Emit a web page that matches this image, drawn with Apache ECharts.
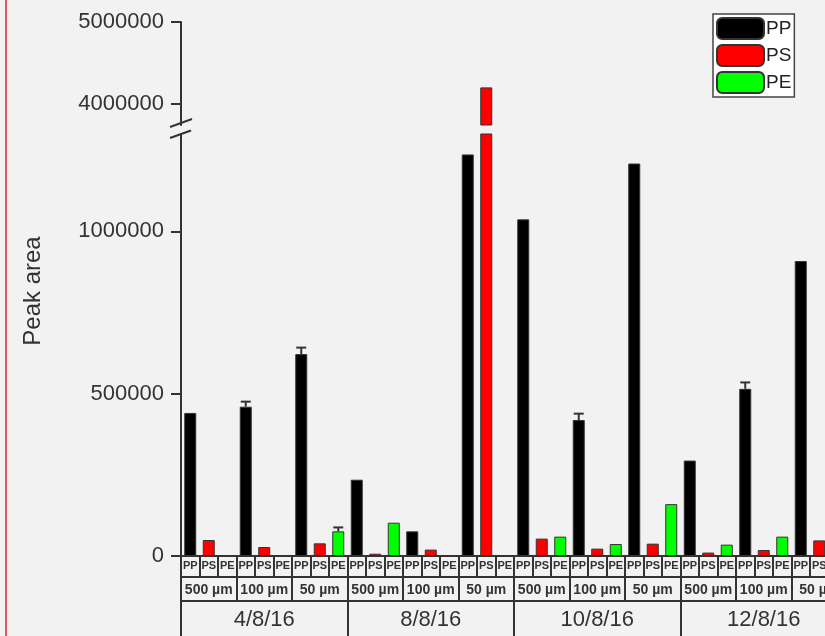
<!DOCTYPE html>
<html>
<head>
<meta charset="utf-8">
<script src="https://cdn.jsdelivr.net/npm/echarts@6.0.0/dist/echarts.min.js"></script>
<style>
	html, body { margin: 0; padding: 0; background: #f2f2f2; }
	#chart { width: 825px; height: 636px; }
</style>
</head>
<body>
<div id="chart"></div>
<script>
	var dates = ['4/8/16', '8/8/16', '10/8/16', '12/8/16'];
	var sizes = ['500 µm', '100 µm', '50 µm'];
	var polymers = ['PP', 'PS', 'PE'];

	// one value per date/size pair: 4/8/16 500,100,50 then 8/8/16 ... (null = no bar)
	var ppValues = [440700, 460000, 622000, 235000, 76000, 1237000, 1037000, 419000, 1209000, 294000, 515000, 908700];
	var psValues = [49200, 27700, 39000, 7000, 19700, 4200000, 53500, 22700, 38000, 10500, 18400, 48000];
	var peValues = [null, null, 76000, 102600, null, null, 59600, 36900, 159800, 35000, 59600, null];
	var ppErr = [0, 15500, 20000, 0, 0, 0, 0, 19500, 0, 0, 19700, 0];
	var psErr = [0, 0, 0, 0, 0, 0, 0, 0, 0, 0, 0, 0];
	var peErr = [0, 0, 12000, 0, 0, 0, 0, 0, 0, 0, 0, 0];

	var lowerMax = 1300000;
	var upperMin = 3740000;
	var upperMax = 5000000;
	var lowerTicks = [0, 500000, 1000000];
	var lowerMinor = [250000, 750000, 1250000];
	var upperTicks = [4000000, 5000000];
	var upperMinor = [4500000];

	var colors = ['#000000', '#ff0000', '#00ff00'];
	var lineColor = '#333';

	var slotLabels = [];
	var sizeLabels = [];
	for (var d = 0; d < dates.length; d++) {
		for (var s = 0; s < sizes.length; s++) {
			sizeLabels.push(sizes[s]);
			for (var p = 0; p < polymers.length; p++) {
				slotLabels.push(polymers[p]);
			}
		}
	}

	var allValues = [ppValues, psValues, peValues];
	var allErr = [ppErr, psErr, peErr];

	function slotData(p, upper) {
		var arr = [];
		for (var i = 0; i < slotLabels.length; i++) arr.push('-');
		var vals = allValues[p];
		for (var k = 0; k < vals.length; k++) {
			var v = vals[k];
			if (v == null) continue;
			if (upper && v <= upperMin) continue;
			arr[k * 3 + p] = v;
		}
		return arr;
	}

	var errData = [];
	for (var p = 0; p < 3; p++) {
		for (var k = 0; k < 12; k++) {
			if (allErr[p][k] > 0 && allValues[p][k] != null) {
				errData.push([k * 3 + p, allValues[p][k], allErr[p][k]]);
			}
		}
	}

	var chart = echarts.init(document.getElementById('chart'));

	var series = [];
	for (var p = 0; p < 3; p++) {
		series.push({
			name: polymers[p],
			type: 'bar',
			xAxisIndex: 0,
			yAxisIndex: 0,
			data: slotData(p, false),
			barWidth: 12,
			barGap: '-100%',
			clip: true,
			itemStyle: { color: colors[p], borderColor: lineColor, borderWidth: 1 }
		});
		series.push({
			name: polymers[p],
			type: 'bar',
			xAxisIndex: 3,
			yAxisIndex: 2,
			data: slotData(p, true),
			barWidth: 12,
			barGap: '-100%',
			clip: true,
			itemStyle: { color: colors[p], borderColor: lineColor, borderWidth: 1 }
		});
	}
	series.push({
		type: 'custom',
		xAxisIndex: 0,
		yAxisIndex: 0,
		data: errData,
		z: 5,
		renderItem: function (params, api) {
			var top = api.coord([api.value(0), api.value(1) + api.value(2)]);
			var base = api.coord([api.value(0), api.value(1)]);
			return {
				type: 'group',
				children: [{
					type: 'line',
					shape: { x1: base[0], y1: base[1], x2: top[0], y2: top[1] },
					style: { stroke: lineColor, lineWidth: 2 }
				}, {
					type: 'line',
					shape: { x1: top[0] - 5, y1: top[1], x2: top[0] + 5, y2: top[1] },
					style: { stroke: lineColor, lineWidth: 2 }
				}]
			};
		}
	});

	var labelFmt = function (v) { return String(v); };

	function catAxis(data, offset, tickLen, fontSize, margin, weight) {
		return {
			type: 'category',
			gridIndex: 0,
			position: 'bottom',
			offset: offset,
			data: data,
			axisLine: { show: true, onZero: false, lineStyle: { color: lineColor, width: 2 } },
			axisTick: { show: true, interval: 0, alignWithLabel: false, length: tickLen, lineStyle: { color: lineColor, width: 2 } },
			axisLabel: { show: true, interval: 0, fontSize: fontSize, fontWeight: weight || 'normal', color: '#333', margin: margin },
			splitLine: { show: false }
		};
	}

	var option = {
		backgroundColor: '#f2f2f2',
		animation: false,
		textStyle: { fontFamily: 'Liberation Sans, Arial, sans-serif' },
		legend: {
			data: polymers,
			orient: 'vertical',
			left: 713,
			top: 14,
			padding: 3,
			itemGap: 4,
			itemWidth: 47,
			itemHeight: 21,
			icon: 'roundRect',
			backgroundColor: '#ffffff',
			borderColor: '#444',
			borderWidth: 1.5,
			borderRadius: 0,
			textStyle: { fontSize: 19, color: '#222', padding: [0, 0, 0, -3] }
		},
		grid: [
			{ left: 181, top: 134, width: 666, height: 422, outerBoundsMode: 'none', containLabel: false },
			{ left: 181, top: 22, width: 666, height: 103, outerBoundsMode: 'none', containLabel: false }
		],
		xAxis: [
			catAxis(slotLabels, 0, 21, 11, 4, 'bold'),
			catAxis(sizeLabels, 21, 24, 14, 6, 'bold'),
			catAxis(dates, 45, 40, 22, 8),
			{ type: 'category', gridIndex: 1, data: slotLabels, show: false }
		],
		yAxis: [{
			type: 'value',
			gridIndex: 0,
			min: 0,
			max: lowerMax,
			axisLine: { show: true, lineStyle: { color: lineColor, width: 2 } },
			axisTick: { show: true, length: 10, customValues: lowerTicks, lineStyle: { color: lineColor, width: 2 } },
			axisLabel: { customValues: lowerTicks, fontSize: 22, color: '#333', margin: 17, formatter: labelFmt },
			splitLine: { show: false }
		}, {
			type: 'value',
			gridIndex: 0,
			min: 0,
			max: lowerMax,
			axisLine: { show: false },
			axisTick: { show: true, length: 5, customValues: lowerMinor, lineStyle: { color: lineColor, width: 2 } },
			axisLabel: { show: false },
			splitLine: { show: false }
		}, {
			type: 'value',
			gridIndex: 1,
			min: upperMin,
			max: upperMax,
			axisLine: { show: true, lineStyle: { color: lineColor, width: 2 } },
			axisTick: { show: true, length: 10, customValues: upperTicks, lineStyle: { color: lineColor, width: 2 } },
			axisLabel: { customValues: upperTicks, fontSize: 22, color: '#333', margin: 17, formatter: labelFmt },
			splitLine: { show: false }
		}, {
			type: 'value',
			gridIndex: 1,
			min: upperMin,
			max: upperMax,
			axisLine: { show: false },
			axisTick: { show: true, length: 5, customValues: upperMinor, lineStyle: { color: lineColor, width: 2 } },
			axisLabel: { show: false },
			splitLine: { show: false }
		}],
		graphic: [{
			type: 'line',
			shape: { x1: 6, y1: 0, x2: 6, y2: 636 },
			style: { stroke: '#e0202a', lineWidth: 1.5 }
		}, {
			type: 'line',
			shape: { x1: 170, y1: 127, x2: 192, y2: 119 },
			style: { stroke: lineColor, lineWidth: 2 }
		}, {
			type: 'line',
			shape: { x1: 170, y1: 138, x2: 191, y2: 130.5 },
			style: { stroke: lineColor, lineWidth: 2 }
		}, {
			type: 'text',
			x: 33,
			y: 291,
			rotation: Math.PI / 2,
			style: {
				text: 'Peak area',
				fontSize: 24,
				fill: '#333',
				fontFamily: 'Liberation Sans, Arial, sans-serif',
				align: 'center',
				verticalAlign: 'middle'
			}
		}],
		series: series
	};
	chart.setOption(option);
</script>
</body>
</html>
